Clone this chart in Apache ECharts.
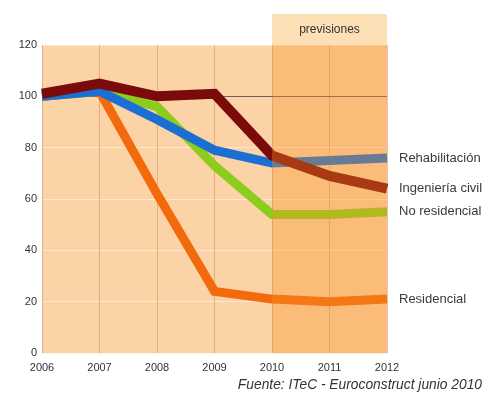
<!DOCTYPE html>
<html>
<head>
<meta charset="utf-8">
<script src="https://cdn.jsdelivr.net/npm/echarts@6/dist/echarts.min.js"></script>
<style>
  html, body { margin: 0; padding: 0; background: #ffffff; }
  #chart { width: 483px; height: 394px; }
</style>
</head>
<body>
<div id="chart"></div>
<script>
// Índice de producción del sector de la construcción (2006 = 100)
const years = ['2006', '2007', '2008', '2009', '2010', '2011', '2012'];
const yTicks = [0, 20, 40, 60, 80, 100, 120];

const residencial    = [100, 102, 62, 24, 21, 20, 21];
const noResidencial  = [100, 102, 96, 73, 54, 54, 55];
const rehabilitacion = [100, 102, 91, 79, 74, 75, 76];
const ingenieriaCivil = [101, 105, 100, 101, 77, 69, 64];

const forecastFrom = '2010';
const forecastTo = '2012';

const FONT = '"Liberation Sans", Arial, sans-serif';

function lineSeries(name, data, color, width) {
  return {
    name: name,
    type: 'line',
    data: data,
    showSymbol: false,
    symbol: 'none',
    z: 2,
    lineStyle: { color: color, width: width, join: 'miter', cap: 'butt' },
    endLabel: {
      show: true,
      formatter: '{a}',
      color: '#3a3a3a',
      fontFamily: FONT,
      fontSize: 13,
      distance: 12
    },
    emphasis: { disabled: true }
  };
}

const chart = echarts.init(document.getElementById('chart'), null, { renderer: 'canvas' });

chart.setOption({
  animation: false,
  backgroundColor: '#ffffff',
  textStyle: { fontFamily: FONT },
  title: {
    text: 'Fuente: ITeC - Euroconstruct junio 2010',
    right: 1,
    top: 378,
    padding: 0,
    textStyle: {
      fontFamily: FONT,
      fontSize: 13.8,
      fontStyle: 'italic',
      fontWeight: 'normal',
      color: '#333333'
    }
  },
  grid: {
    left: 42,
    right: 96,
    top: 45,
    bottom: 41,
    show: true,
    backgroundColor: '#fcd3a6',
    borderWidth: 0
  },
  xAxis: {
    type: 'category',
    data: years,
    boundaryGap: false,
    axisLine: { show: false },
    axisTick: { show: false },
    axisLabel: { color: '#333333', fontSize: 11, margin: 9, fontFamily: FONT },
    splitLine: { show: true, lineStyle: { color: 'rgba(190,130,70,0.45)', width: 1 } }
  },
  yAxis: {
    type: 'value',
    min: yTicks[0],
    max: yTicks[yTicks.length - 1],
    interval: yTicks[1] - yTicks[0],
    axisLine: { show: false },
    axisTick: { show: false },
    axisLabel: { color: '#333333', fontSize: 11, margin: 5, fontFamily: FONT },
    splitLine: { show: true, lineStyle: { color: 'rgba(255,238,215,0.75)', width: 1 } }
  },
  series: [
    {
      // reference line at 100
      type: 'line',
      data: [],
      z: 1,
      silent: true,
      markLine: {
        silent: true,
        z: 1,
        symbol: 'none',
        label: { show: false },
        lineStyle: { color: '#6e6258', width: 1, type: 'solid' },
        data: [{ yAxis: 100 }]
      }
    },
    lineSeries('Residencial', residencial, '#f26a0c', 9),
    lineSeries('No residencial', noResidencial, '#8ccc1c', 9),
    lineSeries('Rehabilitación', rehabilitacion, '#1b6fd2', 9),
    lineSeries('Ingeniería civil', ingenieriaCivil, '#7b0a0a', 10),
    {
      // tinted forecast band drawn over the lines
      type: 'line',
      data: [],
      z: 10,
      silent: true,
      markArea: {
        silent: true,
        z: 10,
        itemStyle: { color: 'rgba(250,147,37,0.35)' },
        data: [[{ xAxis: forecastFrom }, { xAxis: forecastTo }]]
      }
    }
  ]
});

// header tab above the forecast band
const x0 = chart.convertToPixel({ xAxisIndex: 0 }, forecastFrom);
const x1 = chart.convertToPixel({ xAxisIndex: 0 }, forecastTo);
const yTop = chart.convertToPixel({ yAxisIndex: 0 }, yTicks[yTicks.length - 1]);
const tabHeight = 31;
chart.setOption({
  graphic: [
    {
      type: 'rect',
      shape: { x: x0, y: yTop - tabHeight, width: x1 - x0, height: tabHeight },
      style: { fill: '#fde0b5' },
      silent: true
    },
    {
      type: 'text',
      x: (x0 + x1) / 2,
      y: yTop - tabHeight / 2,
      style: {
        text: 'previsiones',
        fill: '#333333',
        font: '12px ' + FONT,
        align: 'center',
        verticalAlign: 'middle'
      },
      silent: true
    }
  ]
});
</script>
</body>
</html>
